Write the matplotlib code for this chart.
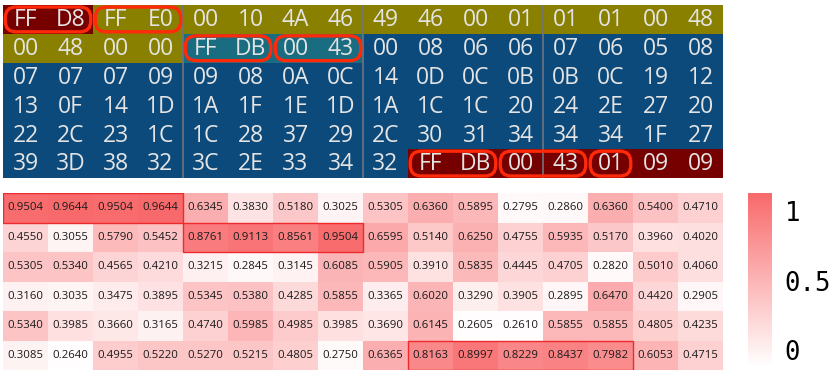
import numpy as np
import matplotlib
matplotlib.use("Agg")
import matplotlib.pyplot as plt
from matplotlib.colors import ListedColormap, LinearSegmentedColormap, Normalize
from matplotlib.patches import FancyBboxPatch, Rectangle
import matplotlib.cm as cm

# hex bytes of the file header (6 rows x 16 bytes)
hex_rows = [
    "FF D8 FF E0 00 10 4A 46 49 46 00 01 01 01 00 48",
    "00 48 00 00 FF DB 00 43 00 08 06 06 07 06 05 08",
    "07 07 07 09 09 08 0A 0C 14 0D 0C 0B 0B 0C 19 12",
    "13 0F 14 1D 1A 1F 1E 1D 1A 1C 1C 20 24 2E 27 20",
    "22 2C 23 1C 1C 28 37 29 2C 30 31 34 34 34 1F 27",
    "39 3D 38 32 3C 2E 33 34 32 FF DB 00 43 01 09 09",
]

# byte segments: (row, first col, last col, kind)
segments = [
    (0, 0, 1, "marker"),
    (0, 2, 15, "app"),
    (1, 0, 3, "app"),
    (1, 4, 7, "dqt"),
    (1, 8, 15, "table"),
    (2, 0, 15, "table"),
    (3, 0, 15, "table"),
    (4, 0, 15, "table"),
    (5, 0, 8, "table"),
    (5, 9, 15, "marker"),
]

# highlighted byte groups: (row, first col, last col)
boxes = [(0, 0, 1), (0, 2, 3), (1, 4, 5), (1, 6, 7), (5, 9, 10), (5, 11, 12), (5, 13, 13)]

# attention scores per byte
scores = np.array([
    [0.9504, 0.9644, 0.9504, 0.9644, 0.6345, 0.3830, 0.5180, 0.3025, 0.5305, 0.6360, 0.5895, 0.2795, 0.2860, 0.6360, 0.5400, 0.4710],
    [0.4550, 0.3055, 0.5790, 0.5452, 0.8761, 0.9113, 0.8561, 0.9504, 0.6595, 0.5140, 0.6250, 0.4755, 0.5935, 0.5170, 0.3960, 0.4020],
    [0.5305, 0.5340, 0.4565, 0.4210, 0.3215, 0.2845, 0.3145, 0.6085, 0.5905, 0.3910, 0.5835, 0.4445, 0.4705, 0.2820, 0.5010, 0.4060],
    [0.3160, 0.3035, 0.3475, 0.3895, 0.5345, 0.5380, 0.4285, 0.5855, 0.3365, 0.6020, 0.3290, 0.3905, 0.2895, 0.6470, 0.4420, 0.2905],
    [0.5340, 0.3985, 0.3660, 0.3165, 0.4740, 0.5985, 0.4985, 0.3985, 0.3690, 0.6145, 0.2605, 0.2610, 0.5855, 0.5855, 0.4805, 0.4235],
    [0.3085, 0.2640, 0.4955, 0.5220, 0.5270, 0.5215, 0.4805, 0.2750, 0.6365, 0.8163, 0.8997, 0.8229, 0.8437, 0.7982, 0.6053, 0.4715],
])

# highlighted score groups: (row, first col, last col)
score_boxes = [(0, 0, 3), (1, 4, 7), (5, 9, 13)]

cbar_ticks = [0, 0.5, 1]

kind_colors = {"app": "#898000", "table": "#0B4A7B", "dqt": "#1A6D80", "marker": "#760000"}
kinds = list(kind_colors)

nrow, ncol = scores.shape

fig = plt.figure(figsize=(8.30, 3.73), dpi=100)

# ---- top: hex grid
ax = fig.add_axes([3 / 830, 1 - 178 / 373, 720 / 830, 173 / 373])
grid = np.zeros((nrow, ncol), dtype=int)
for r, c0, c1, k in segments:
    grid[r, c0:c1 + 1] = kinds.index(k)
ax.pcolormesh(np.arange(ncol + 1), np.arange(nrow + 1), grid,
              cmap=ListedColormap([kind_colors[k] for k in kinds]), vmin=-0.5, vmax=len(kinds) - 0.5)
for g in (4, 8, 12):
    ax.axvline(g, color="#6E7480", lw=1.2)
aspect = (6 / 173) / (16 / 720)
for r, c0, c1 in boxes:
    ax.add_patch(FancyBboxPatch((c0 + 0.05, r + 0.07), c1 - c0 + 1 - 0.1, 0.86,
                                boxstyle="round,pad=0,rounding_size=0.24", mutation_aspect=aspect,
                                fill=False, ec="#FF2A0A", lw=2.4, zorder=3))
for r, line in enumerate(hex_rows):
    for c, b in enumerate(line.split()):
        ax.text(c + 0.5, r + 0.53, b, ha="center", va="center", color="#E4E4E4",
                fontsize=16.5, family="Open Sans", zorder=4)
ax.set_xlim(0, ncol)
ax.set_ylim(nrow, 0)
ax.axis("off")

# ---- bottom: score heatmap
cmap = LinearSegmentedColormap.from_list("wr", ["#FFFFFF", "#F8696B"])
ax2 = fig.add_axes([3 / 830, 3 / 373, 720 / 830, 177 / 373])
ax2.pcolormesh(np.arange(ncol + 1), np.arange(nrow + 1), scores, cmap=cmap,
               vmin=scores.min() - 0.01, vmax=scores.max())
for r in range(nrow):
    for c in range(ncol):
        ax2.text(c + 0.5, r + 0.5, "%.4f" % scores[r, c], ha="center", va="center",
                 fontsize=8.2, color="#1A1A1A", family="Open Sans")
for r, c0, c1 in score_boxes:
    ax2.add_patch(Rectangle((c0, r), c1 - c0 + 1, 1, fill=False, ec="#EE2A2C", lw=1.0, zorder=3))
ax2.set_xlim(0, ncol)
ax2.set_ylim(nrow, 0)
ax2.axis("off")

# ---- colorbar
cax = fig.add_axes([748 / 830, 6 / 373, 24 / 830, 174 / 373])
sm = cm.ScalarMappable(norm=Normalize(-0.12, 1.13), cmap=cmap)
cb = fig.colorbar(sm, cax=cax, ticks=cbar_ticks)
cb.outline.set_visible(False)
cb.ax.tick_params(length=0, pad=9, labelsize=18.5)
cb.ax.set_yticklabels(["0", "0.5", "1"], family="DejaVu Sans Mono")

fig.savefig("out.png", dpi=100)
